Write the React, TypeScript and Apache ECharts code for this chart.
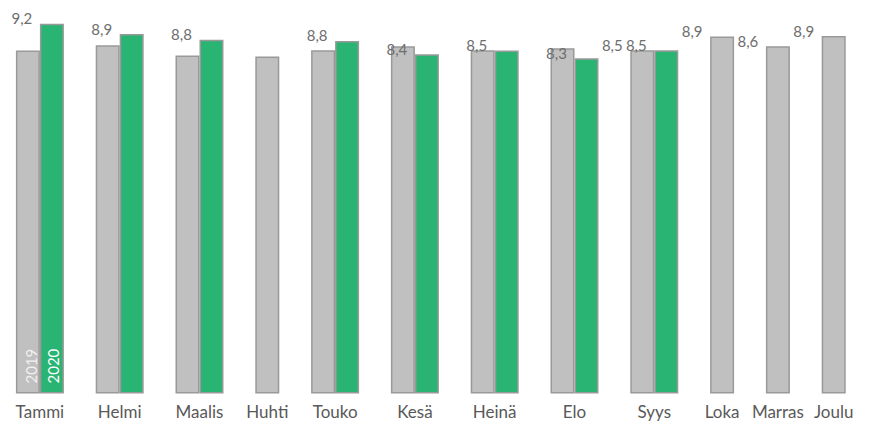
import React, { useEffect, useRef } from "react";
import * as echarts from "echarts";

const months = ["Tammi", "Helmi", "Maalis", "Huhti", "Touko", "Kesä", "Heinä", "Elo", "Syys", "Loka", "Marras", "Joulu"];
const years = ["2019", "2020"];
const values2019 = [8.53, 8.66, 8.41, 8.38, 8.54, 8.64, 8.54, 8.59, 8.54, 8.88, 8.64, 8.89];
const values2020: (number | null)[] = [9.2, 8.94, 8.8, null, 8.77, 8.44, 8.53, 8.34, 8.54, null, null, null];
const labeled2019 = ["Syys", "Loka", "Marras", "Joulu"];
const nameLabelMonth = "Tammi";

const BAR = 24;
const GAP = 31.8;

function layout() {
  let cursor = GAP / 2;
  const grayX: number[] = [];
  const greenX: number[] = [];
  const centers: number[] = [];
  months.forEach((_, i) => {
    const n = 1 + (values2020[i] != null ? 1 : 0);
    grayX.push(cursor + BAR / 2);
    greenX.push(cursor + BAR * 1.5);
    centers.push(cursor + (n * BAR) / 2);
    cursor += n * BAR + GAP;
  });
  return { grayX, greenX, centers, extent: cursor - GAP / 2 };
}

const fmt = (v: number) => v.toFixed(1).replace(".", ",");

export default function App() {
  const ref = useRef<HTMLDivElement>(null);
  useEffect(() => {
    if (!ref.current) return;
    const chart = echarts.init(ref.current, null, { renderer: "svg" });
    const { grayX, greenX, centers, extent } = layout();
    const font = "Lato, 'Noto Sans', sans-serif";
    const valueLabel = {
      position: "top" as const,
      distance: 0,
      offset: [-30, 2],
      color: "#6e6e6e",
      fontSize: 15,
      fontFamily: font,
      formatter: (p: any) => fmt(p.value[1]),
    };
    const border = { borderColor: "#999999", borderWidth: 1.5 };
    const ti = months.indexOf(nameLabelMonth);
    chart.setOption({
      animation: false,
      grid: { left: 0, width: extent, top: 11.6, bottom: 27.5 },
      xAxis: {
        type: "value",
        min: 0,
        max: extent,
        axisLine: { show: false },
        axisTick: { show: false },
        splitLine: { show: false },
        axisLabel: {
          customValues: centers,
          margin: 9,
          fontSize: 17,
          color: "#595959",
          fontFamily: font,
          formatter: (v: number) => {
            let best = 0;
            centers.forEach((c, i) => {
              if (Math.abs(c - v) < Math.abs(centers[best] - v)) best = i;
            });
            return months[best];
          },
        },
      },
      yAxis: {
        type: "value",
        min: 0,
        max: 9.5,
        show: false,
        splitLine: { show: false },
      },
      series: [
        {
          name: years[0],
          type: "bar",
          barWidth: BAR,
          barGap: "-100%",
          itemStyle: { color: "#c0c0c0", ...border },
          label: valueLabel,
          data: months.map((m, i) => ({
            value: [grayX[i], values2019[i]],
            label: { show: labeled2019.includes(m) },
          })),
        },
        {
          name: years[1],
          type: "bar",
          barWidth: BAR,
          barGap: "-100%",
          itemStyle: { color: "#29b473", ...border },
          label: { ...valueLabel, show: true },
          data: months
            .map((m, i) => (values2020[i] == null ? null : { value: [greenX[i], values2020[i]] }))
            .filter((d) => d != null),
        },
        {
          name: "names",
          type: "bar",
          barWidth: BAR,
          barGap: "-100%",
          itemStyle: { color: "transparent" },
          silent: true,
          label: {
            show: true,
            position: "insideBottom",
            distance: 10,
            rotate: 90,
            align: "left",
            verticalAlign: "middle",
            fontSize: 15,
            fontFamily: font,
            formatter: (p: any) => years[p.dataIndex],
          },
          data: [
            { value: [grayX[ti], values2019[ti]], label: { color: "#f0f0f0", offset: [0, 3] } },
            { value: [greenX[ti], values2020[ti] as number], label: { color: "#ffffff", offset: [0, 1] } },
          ],
        },
      ],
    });
    return () => chart.dispose();
  }, []);
  return <div ref={ref} style={{ position: "absolute", left: 0, top: 0, width: 869, height: 421 }} />;
}
